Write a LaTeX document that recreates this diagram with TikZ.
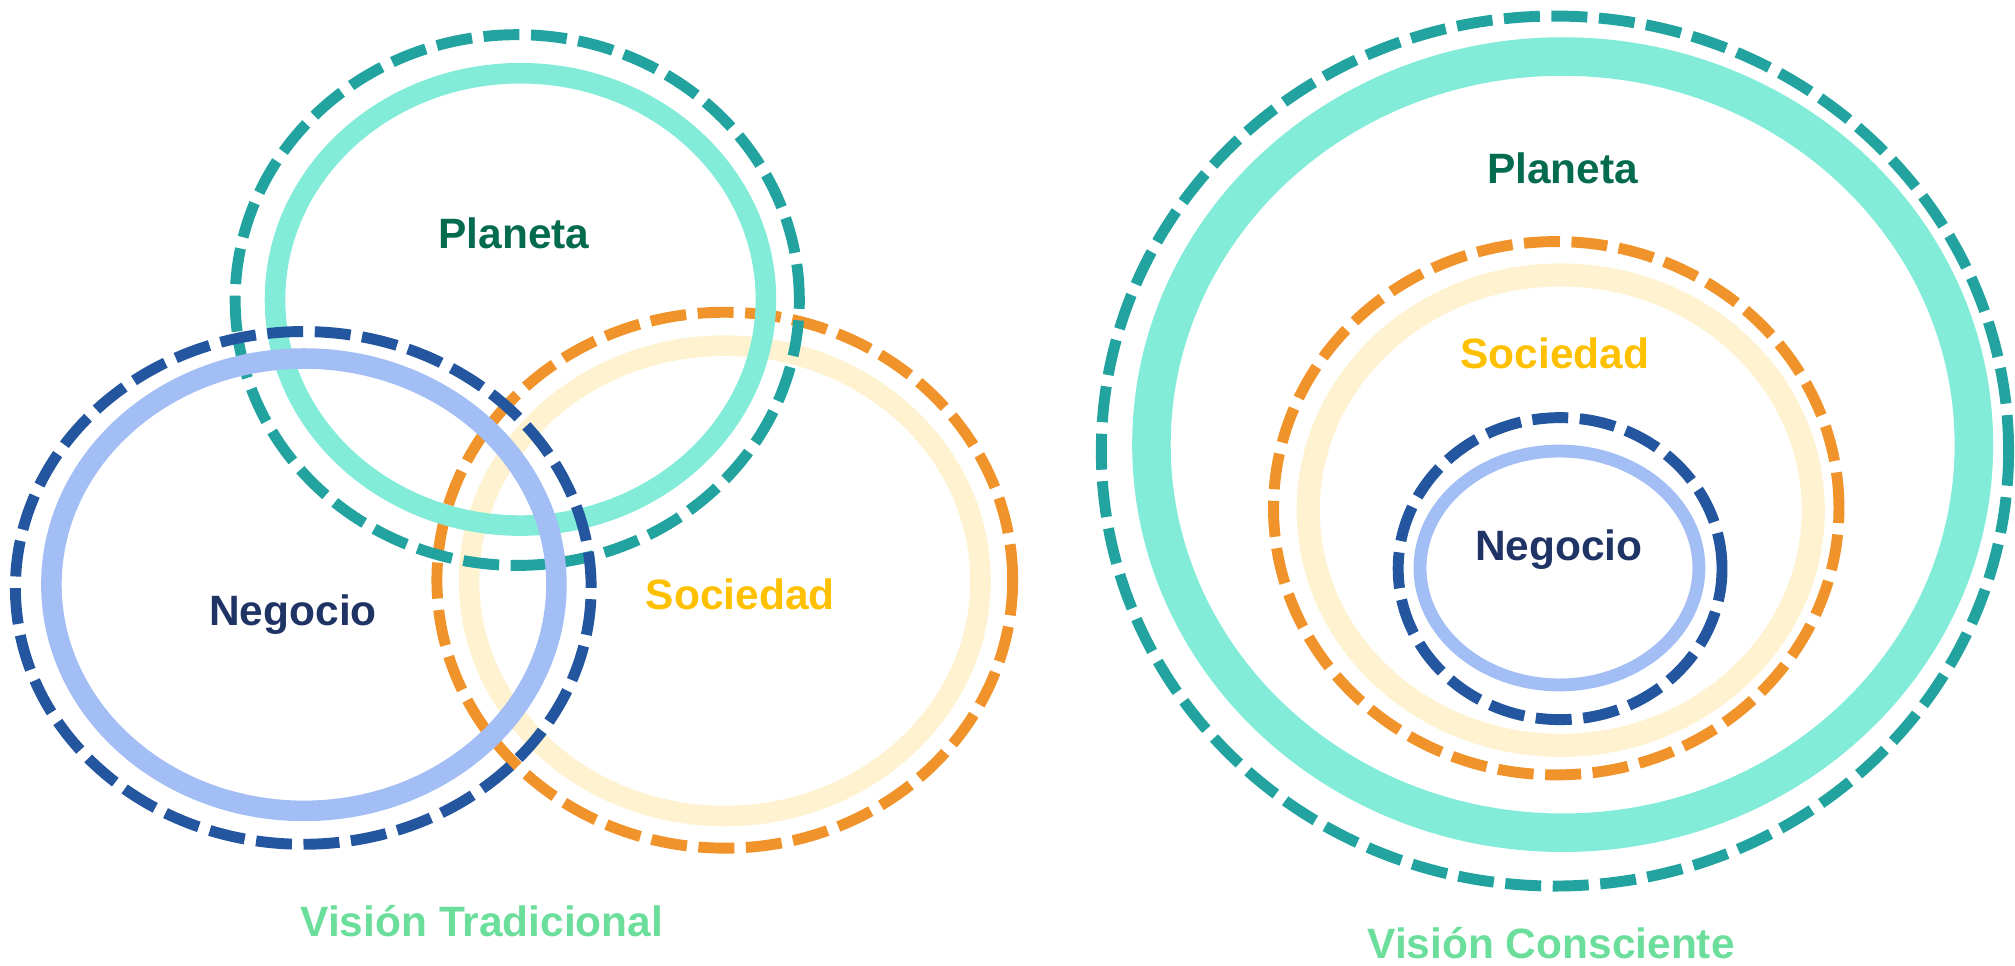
\documentclass[tikz,border=0pt]{standalone}
\usepackage{fontspec}
\setmainfont{Liberation Sans}
\definecolor{tealdash}{HTML}{22A39F}
\definecolor{tealring}{HTML}{82ECD8}
\definecolor{navydash}{HTML}{23569E}
\definecolor{bluering}{HTML}{A2BEF5}
\definecolor{orangedash}{HTML}{F0932B}
\definecolor{creamring}{HTML}{FFF2D0}
\definecolor{planetatext}{HTML}{046B4F}
\definecolor{negociotext}{HTML}{1F3464}
\definecolor{sociedadtext}{HTML}{FFC000}
\definecolor{visiontext}{HTML}{6CDE9C}

\begin{document}
\begin{tikzpicture}[dashring/.style={line width=0.085cm, dash pattern=on 0.28cm off 0.09cm},
	circletext/.style={font=\fontsize{9.4}{11}\selectfont\bfseries, anchor=base, inner sep=0pt}]
		\useasboundingbox (0,0) rectangle (15.68,7.51);
		
		\draw [creamring, line width=0.16cm] (5.64,2.99) ellipse [x radius=1.99cm, y radius=1.83cm];
		\draw [dashring, orangedash] (5.64,2.995) ellipse [x radius=2.24cm, y radius=2.085cm];
		\draw [dashring, tealdash] (4.025,5.175) ellipse [x radius=2.195cm, y radius=2.065cm];
		\draw [tealring, line width=0.16cm] (4.05,5.18) ellipse [x radius=1.91cm, y radius=1.76cm];
		\draw [dashring, navydash] (2.36,2.935) ellipse [x radius=2.24cm, y radius=1.995cm];
		\draw [bluering, line width=0.16cm] (2.365,2.96) ellipse [x radius=1.965cm, y radius=1.76cm];
		\node [circletext, planetatext] (planetaT) at (4.00,5.58) {Planeta};
		\node [circletext, negociotext] (negocioT) at (2.28,2.64) {Negocio};
		\node [circletext, sociedadtext] (sociedadT) at (5.76,2.77) {Sociedad};
		\node [circletext, visiontext] (tradicional) at (3.75,0.22) {Visión Tradicional};
		
		\draw [dashring, tealdash] (12.10,4.00) ellipse [x radius=3.53cm, y radius=3.385cm];
		\draw [tealring, line width=0.30cm] (12.16,4.05) ellipse [x radius=3.20cm, y radius=3.02cm];
		\draw [dashring, orangedash] (12.11,3.555) ellipse [x radius=2.20cm, y radius=2.075cm];
		\draw [creamring, line width=0.18cm] (12.145,3.54) ellipse [x radius=1.965cm, y radius=1.83cm];
		\draw [dashring, navydash] (12.14,3.085) ellipse [x radius=1.26cm, y radius=1.175cm];
		\draw [bluering, line width=0.10cm] (12.135,3.09) ellipse [x radius=1.085cm, y radius=0.91cm];
		\node [circletext, planetatext] (planetaC) at (12.16,6.08) {Planeta};
		\node [circletext, sociedadtext] (sociedadC) at (12.10,4.64) {Sociedad};
		\node [circletext, negociotext] (negocioC) at (12.13,3.15) {Negocio};
		\node [circletext, visiontext] (consciente) at (12.07,0.05) {Visión Consciente};
\end{tikzpicture}
\end{document}
